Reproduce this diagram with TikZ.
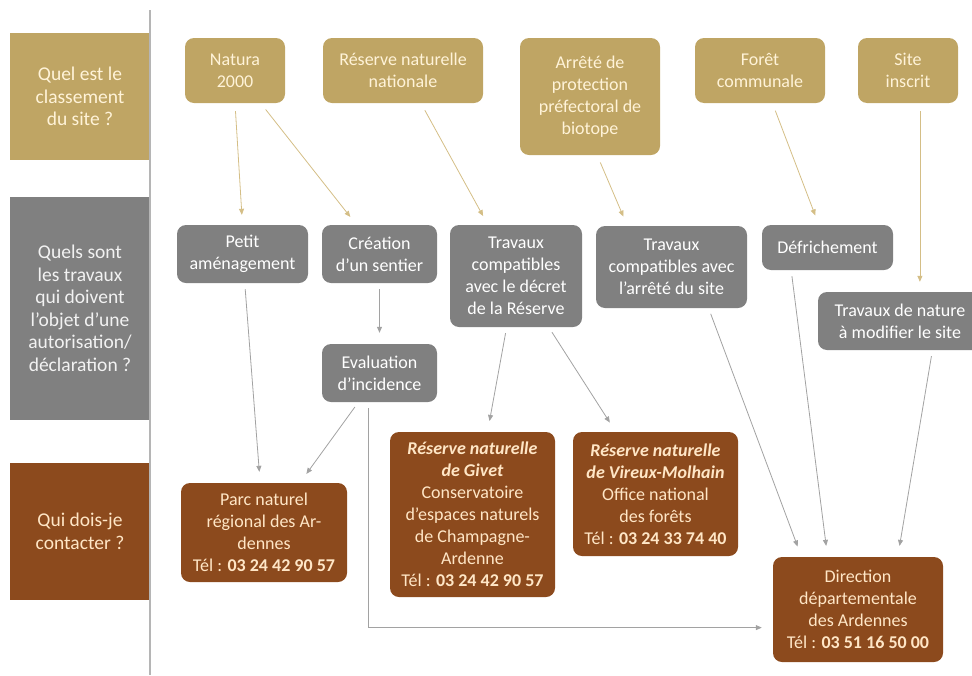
\documentclass[tikz,border=0pt]{standalone}
\usepackage{fontspec}
\setmainfont{Carlito}
\usetikzlibrary{arrows.meta,calc}
\definecolor{clsgold}{HTML}{BFA564}
\definecolor{clstxt}{HTML}{FFF3D8}
\definecolor{trvgrey}{HTML}{808080}
\definecolor{ctcbrown}{HTML}{8C4A1D}
\definecolor{ctctxt}{HTML}{FFE6C6}
\definecolor{goldln}{HTML}{D4BE86}
\definecolor{greyln}{HTML}{A2A2A2}

\begin{document}
\begin{tikzpicture}[x=1pt,y=-1pt,
    font=\fontsize{18}{22}\selectfont,
    sz/.style 2 args={minimum width=#1pt,minimum height=#2pt},
    box/.style={rounded corners=9pt,align=center,inner sep=0pt},
    cls/.style={box,fill=clsgold,text=clstxt},
    trv/.style={box,fill=trvgrey,text=white},
    ctc/.style={box,fill=ctcbrown,text=ctctxt},
    lab/.style={align=center,inner sep=0pt,font=\fontsize{19.5}{22.5}\selectfont},
    garr/.style={draw=goldln,line width=0.8pt,-{Triangle[length=6pt,width=5pt]},
      shorten <=8pt,shorten >=10pt},
    darr/.style={draw=greyln,line width=0.8pt,-{Triangle[length=6pt,width=5pt]},
      shorten <=6pt,shorten >=11pt},
   ]
   \useasboundingbox (0,0) rectangle (972,675);
   \path (80,96.5) node[lab,sz={140}{127},fill=clsgold,text=clstxt] (q1)
       {Quel est le\\classement\\du site ?}
     (80,308.5) node[lab,sz={140}{223},fill=trvgrey,text=white!95!black] (q2)
       {Quels sont\\les travaux\\qui doivent\\l'objet d'une\\autorisation/\\déclaration ?}
     (80,531.5) node[lab,sz={140}{137},fill=ctcbrown,text=ctctxt] (q3)
       {Qui dois-je\\contacter ?};
   \draw[greyln!80,line width=1.5pt] (150,10) -- (150,675);
   \path (235,70.5) node[cls,sz={100}{65}] (nat) {Natura\\2000}
     (403,70.5) node[cls,sz={160}{65}] (rnn) {Réserve naturelle\\nationale}
     (590,96.5) node[cls,sz={140}{117}] (arr) {Arrêté de\\protection\\préfectoral de\\biotope}
     (760,70.5) node[cls,sz={130}{65}] (for) {Forêt\\communale}
     (908,70.5) node[cls,sz={100}{65}] (sit) {Site\\inscrit};
   \path (242.5,254) node[trv,sz={131}{58}] (pet) {Petit\\aménagement}
     (379.5,254) node[trv,sz={115}{58}] (cre) {Création\\d'un sentier}
     (516,276) node[trv,sz={132}{102}] (tcd) {Travaux\\compatibles\\avec le décret\\de la Réserve}
     (671.5,267) node[trv,sz={151}{82}] (tca) {Travaux\\compatibles avec\\l'arrêté du site}
     (827.5,247.5) node[trv,sz={131}{45}] (def) {Défrichement}
     (900,321) node[trv,sz={164}{58}] (tnm) {Travaux de nature\\à modifier le site}
     (379.5,373) node[trv,sz={115}{58}] (eva) {Evaluation\\d'incidence};
   \path (264,532.5) node[ctc,sz={166}{99}] (parc)
       {Parc naturel\\régional des Ar-\\dennes\\Tél : \textbf{03 24 42 90 57}}
     (472.5,514.5) node[ctc,sz={165}{165}] (giv)
       {\textbf{\textit{Réserve naturelle}}\\\textbf{\textit{de Givet}}\\Conservatoire\\d'espaces naturels\\de Champagne-\\Ardenne\\Tél : \textbf{03 24 42 90 57}}
     (655.5,494) node[ctc,sz={165}{124}] (vir)
       {\textbf{\textit{Réserve naturelle}}\\\textbf{\textit{de Vireux-Molhain}}\\Office national\\des forêts\\Tél : \textbf{03 24 33 74 40}}
     (858,609.5) node[ctc,sz={170}{105}] (dir)
       {Direction\\départementale\\des Ardennes\\Tél : \textbf{03 51 16 50 00}};
   \draw[garr] (nat.south) -- (pet.north);
   \draw[garr] (nat) -- (cre);
   \draw[garr] (rnn) -- (tcd);
   \draw[garr] (arr.-83) -- (tca.137);
   \draw[garr] (for) -- (def);
   \draw[garr] (sit.-70) -- (sit.-70 |- tnm.north);
   \draw[darr] (cre) -- (eva);
   \draw[darr] (pet) -- (parc);
   \draw[darr] (eva) -- (parc);
   \draw[darr] (eva.-111) |- (dir.-168);
   \draw[darr] (tcd) -- (giv);
   \draw[darr] (tcd) -- (vir);
   \draw[darr] (tca.-48) -- (dir.137);
   \draw[darr] (def.-148) -- (dir.120);
   \draw[darr] (tnm.-42) -- (dir.53);
\end{tikzpicture}
\end{document}
